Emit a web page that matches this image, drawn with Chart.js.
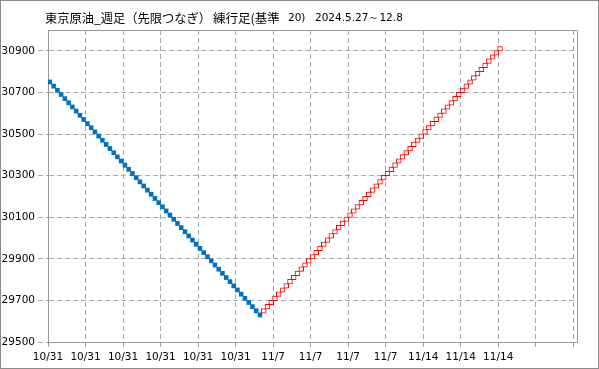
<!DOCTYPE html>
<html><head><meta charset="utf-8">
<script src="https://cdn.jsdelivr.net/npm/chart.js@4"></script>
<style>html,body{margin:0;padding:0;background:#fff}#wrap{width:599px;height:369px;position:relative}</style>
</head><body><div id="wrap"><canvas id="c" width="599" height="369"></canvas></div>
<script>
const titleParts = ["東京原油_週足（先限つなぎ）", "練行足(基準", "20)", "2024.5.27～12.8"];
const boxSize = 20;
// lower edge of each falling (blue) box, one per column
const downBoxes = [
  30740, 30720, 30700, 30680, 30660, 30640, 30620, 30600, 30580, 30560,
  30540, 30520, 30500, 30480, 30460, 30440, 30420, 30400, 30380, 30360,
  30340, 30320, 30300, 30280, 30260, 30240, 30220, 30200, 30180, 30160,
  30140, 30120, 30100, 30080, 30060, 30040, 30020, 30000, 29980, 29960,
  29940, 29920, 29900, 29880, 29860, 29840, 29820, 29800, 29780, 29760,
  29740, 29720, 29700, 29680, 29660, 29640, 29620
];
// lower edge of each rising (red) box, one per column
const upBoxes = [
  29640, 29660, 29680, 29700, 29720, 29740, 29760, 29780, 29800, 29820,
  29840, 29860, 29880, 29900, 29920, 29940, 29960, 29980, 30000, 30020,
  30040, 30060, 30080, 30100, 30120, 30140, 30160, 30180, 30200, 30220,
  30240, 30260, 30280, 30300, 30320, 30340, 30360, 30380, 30400, 30420,
  30440, 30460, 30480, 30500, 30520, 30540, 30560, 30580, 30600, 30620,
  30640, 30660, 30680, 30700, 30720, 30740, 30760, 30780, 30800, 30820,
  30840, 30860, 30880, 30900
];
const xTickLabels = ["10/31","10/31","10/31","10/31","10/31","10/31","11/7","11/7","11/7","11/7","11/14","11/14","11/14","",""];
const yTickValues = [29500, 29700, 29900, 30100, 30300, 30500, 30700, 30900];
const yMin = 29500, yMax = 31000;
const xSlots = 141, xTickEvery = 10;

const downData = downBoxes.map((lo, i) => ({x: i + 0.5, y: [lo, lo + boxSize]}));
const upData = upBoxes.map((lo, i) => ({x: downBoxes.length + i + 0.5, y: [lo, lo + boxSize]}));

const gridColor = '#A8A8A8';
const axisColor = '#999999';

const framePlugin = {
  id: 'frame',
  beforeDraw(chart) {
    const ctx = chart.ctx;
    ctx.save();
    ctx.fillStyle = '#fff';
    ctx.fillRect(0, 0, chart.width, chart.height);
    ctx.restore();
  },
  afterDraw(chart) {
    const ctx = chart.ctx, a = chart.chartArea;
    ctx.save();
    ctx.strokeStyle = axisColor;
    ctx.lineWidth = 1;
    ctx.beginPath();
    ctx.moveTo(Math.round(a.left) + 0.5, Math.round(a.top) + 0.5);
    ctx.lineTo(Math.round(a.right) + 0.5, Math.round(a.top) + 0.5);
    ctx.lineTo(Math.round(a.right) + 0.5, Math.round(a.bottom) + 0.5);
    ctx.stroke();
    ctx.strokeStyle = '#8a8a8a';
    ctx.strokeRect(0.5, 0.5, chart.width - 1, chart.height - 1);
    ctx.fillStyle = '#000';
    ctx.textBaseline = 'middle';
    ctx.font = '12.5px "Noto Sans CJK JP"';
    ctx.fillText(titleParts[0], 45, 18, 166);
    ctx.fillText(titleParts[1], 213, 18, 72);
    ctx.font = '10.5px "DejaVu Sans"';
    ctx.fillText(titleParts[2], 288, 18, 18);
    ctx.fillText(titleParts[3], 315, 18, 93);
    ctx.restore();
  }
};

new Chart(document.getElementById('c'), {
  type: 'bar',
  data: {
    datasets: [
      {data: downData, backgroundColor: '#0070C0', borderColor: '#0070C0', borderWidth: 0,
       grouped: false, barPercentage: 1.05, categoryPercentage: 1, inflateAmount: 0.3},
      {data: upData, backgroundColor: '#ffffff', borderColor: '#FF0000', borderWidth: 1,
       borderSkipped: false, grouped: false, barPercentage: 1.2, categoryPercentage: 1, inflateAmount: 0.5}
    ]
  },
  options: {
    responsive: false,
    devicePixelRatio: 1,
    animation: false,
    events: [],
    layout: {padding: {top: 30, right: 22, left: 0, bottom: 0}},
    plugins: {legend: {display: false}, tooltip: {enabled: false}, title: {display: false}},
    scales: {
      x: {
        type: 'linear', min: 0, max: xSlots, offset: false,
        afterFit(s) { s.height = 27; },
        afterBuildTicks(s) { s.ticks = xTickLabels.map((_, i) => ({value: i * xTickEvery})); },
        ticks: {
          autoSkip: false, maxRotation: 0, padding: 4, color: '#000',
          font: {family: '"DejaVu Sans"', size: 10.5},
          callback: (v) => xTickLabels[Math.round(v / xTickEvery)] ?? ''
        },
        grid: {color: gridColor, tickLength: 5, offset: false, tickBorderDash: [], tickColor: axisColor},
        border: {display: true, color: axisColor, width: 1, dash: [5, 3]}
      },
      y: {
        type: 'linear', min: yMin, max: yMax,
        afterFit(s) { s.width = 48; },
        afterBuildTicks(s) { s.ticks = yTickValues.map(v => ({value: v})); },
        ticks: {
          padding: 3, color: '#000',
          font: {family: '"DejaVu Sans"', size: 10.5},
          callback: (v) => String(v)
        },
        grid: {color: gridColor, tickLength: 10, tickBorderDash: [5, 3]},
        border: {display: true, color: axisColor, width: 1, dash: [5, 3]}
      }
    }
  },
  plugins: [framePlugin]
});
</script>
</body></html>
